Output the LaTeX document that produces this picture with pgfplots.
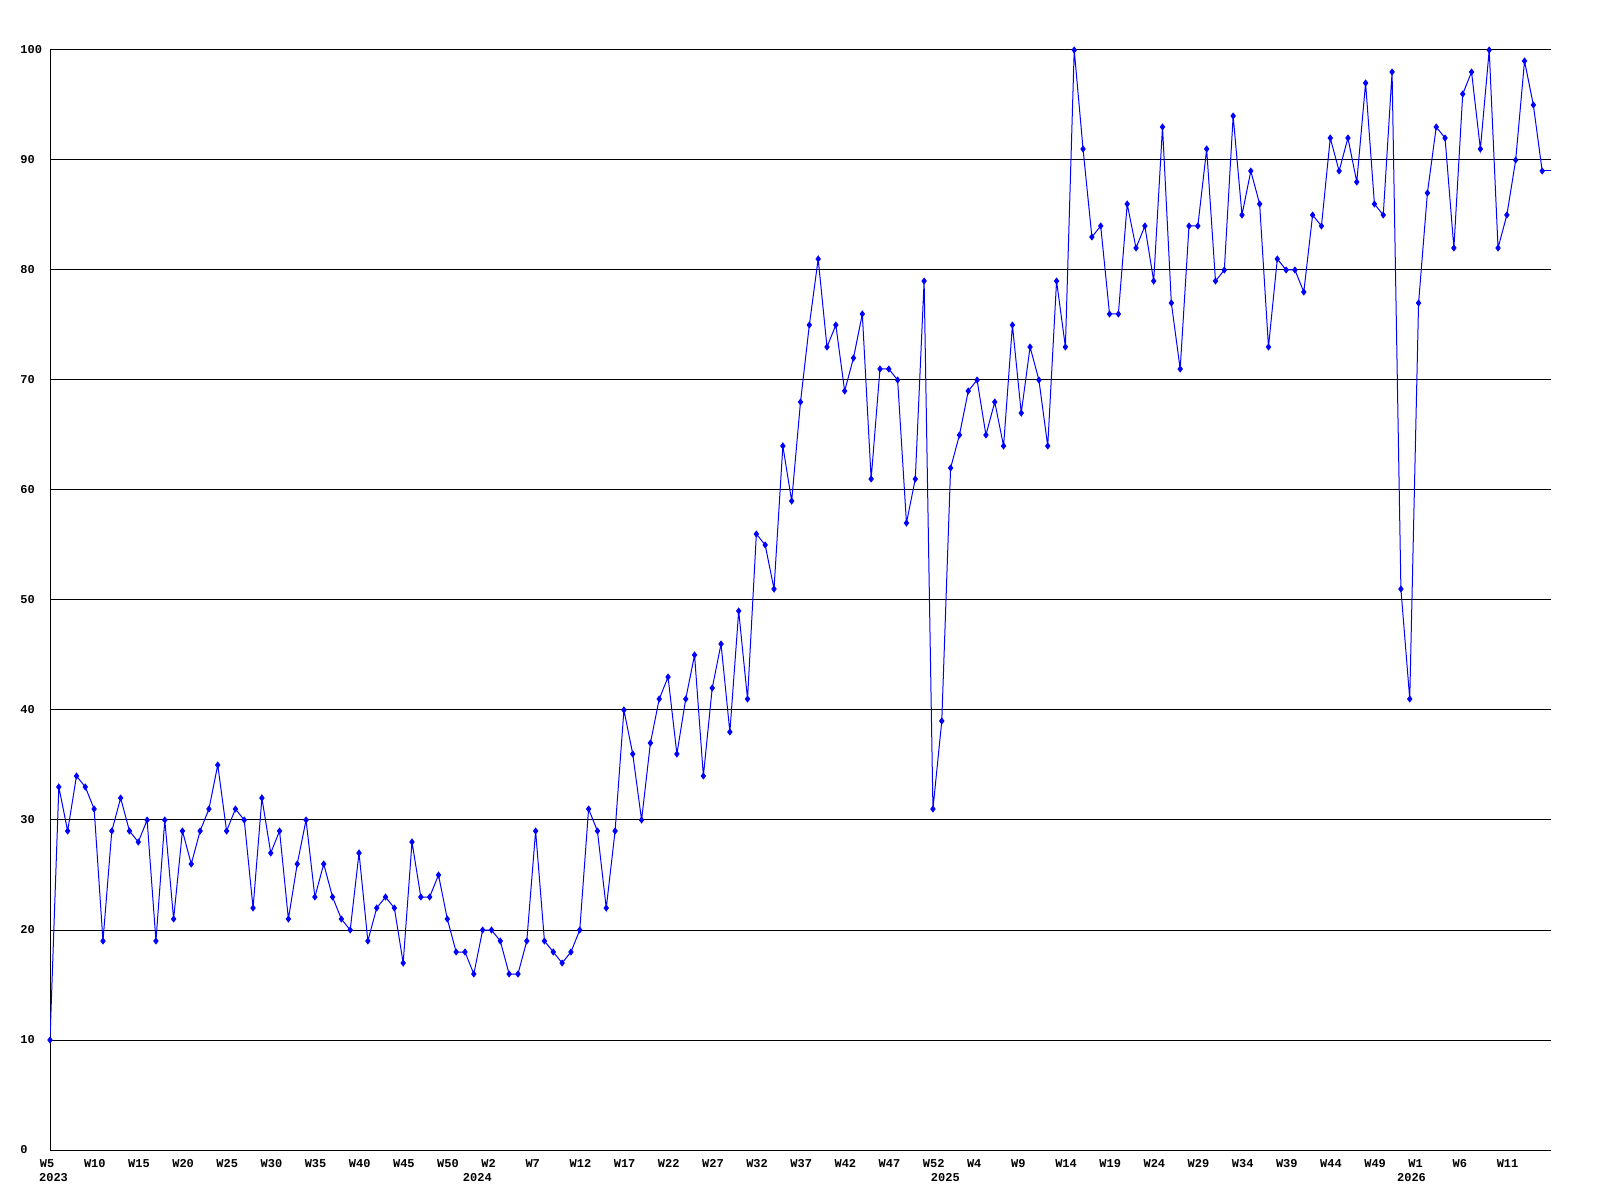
\documentclass[border=0pt]{standalone}
\usepackage{fontspec}
\setmainfont{Liberation Mono}
\usepackage{pgfplots}
\pgfplotsset{compat=1.18}
\pgfplotstableread{
x y
0 10
1 33
2 29
3 34
4 33
5 31
6 19
7 29
8 32
9 29
10 28
11 30
12 19
13 30
14 21
15 29
16 26
17 29
18 31
19 35
20 29
21 31
22 30
23 22
24 32
25 27
26 29
27 21
28 26
29 30
30 23
31 26
32 23
33 21
34 20
35 27
36 19
37 22
38 23
39 22
40 17
41 28
42 23
43 23
44 25
45 21
46 18
47 18
48 16
49 20
50 20
51 19
52 16
53 16
54 19
55 29
56 19
57 18
58 17
59 18
60 20
61 31
62 29
63 22
64 29
65 40
66 36
67 30
68 37
69 41
70 43
71 36
72 41
73 45
74 34
75 42
76 46
77 38
78 49
79 41
80 56
81 55
82 51
83 64
84 59
85 68
86 75
87 81
88 73
89 75
90 69
91 72
92 76
93 61
94 71
95 71
96 70
97 57
98 61
99 79
100 31
101 39
102 62
103 65
104 69
105 70
106 65
107 68
108 64
109 75
110 67
111 73
112 70
113 64
114 79
115 73
116 100
117 91
118 83
119 84
120 76
121 76
122 86
123 82
124 84
125 79
126 93
127 77
128 71
129 84
130 84
131 91
132 79
133 80
134 94
135 85
136 89
137 86
138 73
139 81
140 80
141 80
142 78
143 85
144 84
145 92
146 89
147 92
148 88
149 97
150 86
151 85
152 98
153 51
154 41
155 77
156 87
157 93
158 92
159 82
160 96
161 98
162 91
163 100
164 82
165 85
166 90
167 99
168 95
169 89
}\datatable
\begin{document}
\begin{tikzpicture}
\begin{axis}[
  at={(25pt,25pt)}, anchor=south west,
  scale only axis, width=750.5pt, height=550pt,
  xmin=0, xmax=170, ymin=0, ymax=100,
  axis x line*=bottom, axis y line*=left,
  axis line style={black, line width=0.5pt, -},
  ymajorgrids, grid style={black, line width=0.5pt},
  ytick={0,10,...,100},
  yticklabels={0,10,20,30,40,50,60,70,80,90,100},
  xtick={0,5,...,165},
  xticklabels={W5,W10,W15,W20,W25,W30,W35,W40,W45,W50,W2,W7,W12,W17,W22,W27,W32,W37,W42,W47,W52,W4,W9,W14,W19,W24,W29,W34,W39,W44,W49,W1,W6,W11},
  major tick length=0pt,
  /pgf/number format/assume math mode=true,
  tick label style={font=\fontsize{6}{7}\selectfont\bfseries, inner sep=0pt, text=black},
  yticklabel style={anchor=west, xshift=-15pt},
  xticklabel style={anchor=north west, xshift=-5.25pt, yshift=-4.5pt},
  extra x ticks={0.4,48.4,101.4,154.2},
  extra x tick labels={2023,2024,2025,2026},
  extra x tick style={major tick length=0pt, xticklabel style={anchor=north, xshift=5.25pt, yshift=-7pt}},
  clip=true,
]
\addplot[blue, line width=0.5pt, mark=diamond*, mark size=1.4pt, mark options={solid, fill=blue, draw=blue}] table[x=x, y=y] {\datatable};
\addplot[blue, line width=0.5pt] coordinates {(169,89) (170,89)};
\end{axis}
\pgfresetboundingbox
\path (0,0) rectangle (800pt,600pt);
\end{tikzpicture}
\end{document}
